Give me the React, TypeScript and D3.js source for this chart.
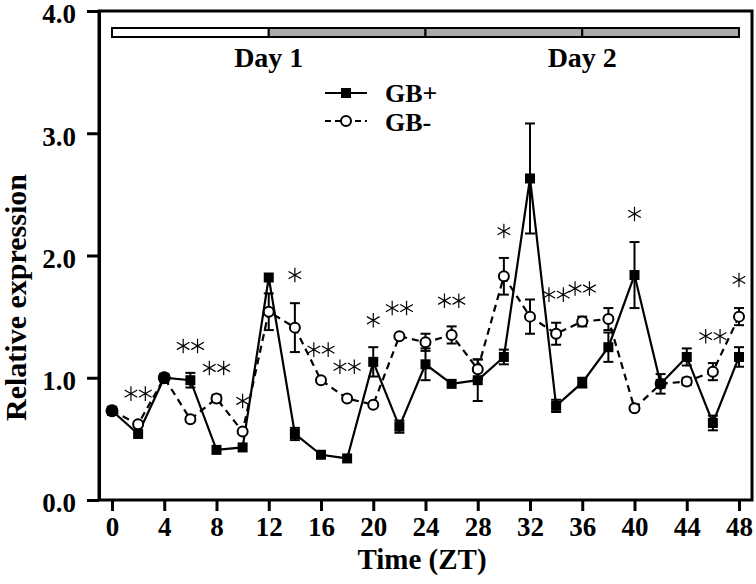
import React, { useEffect, useRef } from 'react';
import * as d3 from 'd3';

// sampling times (ZT hours)
const times = [0, 2, 4, 6, 8, 10, 12, 14, 16, 18, 20, 22, 24, 26, 28, 30, 32, 34, 36, 38, 40, 42, 44, 46, 48];

// GB+ (filled squares, solid line)
const gbPlus = [0.73, 0.54, 1.0, 0.98, 0.41, 0.43, 1.82, 0.54, 0.37, 0.34, 1.13, 0.6, 1.11, 0.95, 0.98, 1.17, 2.63, 0.77, 0.96, 1.25, 1.84, 0.95, 1.17, 0.63, 1.17];
const gbPlusErr = [0, 0, 0, 0.06, 0, 0, 0, 0.05, 0, 0, 0.12, 0.05, 0.13, 0, 0.17, 0.06, 0.45, 0.05, 0.04, 0.12, 0.27, 0.08, 0.07, 0.06, 0.08];

// GB- (open circles, dashed line)
const gbMinus = [0.73, 0.62, 1.0, 0.66, 0.83, 0.56, 1.54, 1.41, 0.98, 0.83, 0.78, 1.34, 1.29, 1.35, 1.07, 1.83, 1.5, 1.36, 1.46, 1.48, 0.75, 0.95, 0.97, 1.05, 1.5];
const gbMinusErr = [0, 0, 0, 0, 0.03, 0, 0.15, 0.2, 0, 0, 0, 0, 0.07, 0.07, 0.08, 0.15, 0.14, 0.09, 0.04, 0.09, 0, 0, 0.03, 0.07, 0.07];

// points where both series start together (drawn as filled dots)
const sharedTimes = [0, 4];

// significance marks
const starTimes = [2, 6, 8, 10, 14, 16, 18, 20, 22, 26, 30, 34, 36, 40, 46, 48];
const starCounts = [2, 2, 2, 1, 1, 2, 2, 1, 2, 2, 1, 2, 2, 1, 2, 1];
const starLevels = [0.87, 1.26, 1.08, 0.81, 1.84, 1.23, 1.09, 1.47, 1.57, 1.63, 2.2, 1.68, 1.73, 2.34, 1.34, 1.8];

// light/dark bar
const phaseStart = [0, 12, 24, 36];
const phaseEnd = [12, 24, 36, 48];
const phaseFill = ['#ffffff', '#aaaaaa', '#aaaaaa', '#aaaaaa'];

const dayLabels = ['Day 1', 'Day 2'];
const dayCenters = [12, 36];

const xTicks = [0, 4, 8, 12, 16, 20, 24, 28, 32, 36, 40, 44, 48];
const yTicks = [0, 1, 2, 3, 4];

const FONT = '"Liberation Serif", "Times New Roman", serif';

export default function App() {
  const ref = useRef<SVGSVGElement>(null);

  useEffect(() => {
    const left = 99, right = 752, top = 11, bottom = 500;

    const svg = d3.select(ref.current);
    svg.selectAll('*').remove();

    const x = d3.scaleLinear().domain([0, 48]).range([112, 739]);
    const y = d3.scaleLinear().domain([0, 4]).range([bottom, top]);

    // frame
    svg.append('rect')
      .attr('x', left).attr('y', top)
      .attr('width', right - left).attr('height', bottom - top)
      .attr('fill', 'none').attr('stroke', '#000').attr('stroke-width', 3);

    // y axis
    const yAxis = svg.append('g')
      .attr('transform', `translate(${left},0)`)
      .call(d3.axisLeft(y).tickValues(yTicks).tickFormat(d3.format('.1f')).tickSize(12).tickSizeOuter(0).tickPadding(11));
    yAxis.select('.domain').attr('stroke-width', 3);
    yAxis.selectAll('.tick line').attr('stroke-width', 3);
    yAxis.selectAll('.tick text')
      .attr('dy', '0.44em')
      .attr('font-family', FONT).attr('font-size', 27).attr('font-weight', 'bold').attr('fill', '#000');

    // x axis
    const xAxis = svg.append('g')
      .attr('transform', `translate(0,${bottom})`)
      .call(d3.axisBottom(x).tickValues(xTicks).tickFormat(d3.format('d')).tickSize(11).tickSizeOuter(0).tickPadding(6));
    xAxis.select('.domain').remove();
    xAxis.selectAll('.tick line').attr('stroke-width', 3);
    xAxis.selectAll('.tick text')
      .attr('font-family', FONT).attr('font-size', 27).attr('font-weight', 'bold').attr('fill', '#000');

    // axis titles
    svg.append('text')
      .attr('x', 422).attr('y', 569)
      .attr('text-anchor', 'middle')
      .attr('font-family', FONT).attr('font-size', 29).attr('font-weight', 'bold')
      .text('Time (ZT)');
    svg.append('text')
      .attr('transform', `translate(26,${(top + bottom) / 2 + 42}) rotate(-90)`)
      .attr('text-anchor', 'middle')
      .attr('font-family', FONT).attr('font-size', 30).attr('font-weight', 'bold')
      .text('Relative expression');

    // light / dark bar
    svg.append('g')
      .selectAll('rect')
      .data(phaseStart)
      .enter()
        .append('rect')
          .attr('x', (d) => x(d))
          .attr('y', 28)
          .attr('width', (d, i) => x(phaseEnd[i]) - x(d))
          .attr('height', 9)
          .attr('fill', (d, i) => phaseFill[i])
          .attr('stroke', '#000')
          .attr('stroke-width', 2);

    svg.append('g')
      .selectAll('text')
      .data(dayLabels)
      .enter()
        .append('text')
          .attr('x', (d, i) => x(dayCenters[i]))
          .attr('y', 67)
          .attr('text-anchor', 'middle')
          .attr('font-family', FONT).attr('font-size', 28).attr('font-weight', 'bold')
          .text((d) => d);

    // lines
    const line = d3.line<number>().x((d, i) => x(times[i])).y((d) => y(d));
    svg.append('path')
      .attr('d', line(gbMinus))
      .attr('fill', 'none').attr('stroke', '#000').attr('stroke-width', 2.2)
      .attr('stroke-dasharray', '7,5');
    svg.append('path')
      .attr('d', line(gbPlus))
      .attr('fill', 'none').attr('stroke', '#000').attr('stroke-width', 2.2);

    // error bars
    const drawErr = (vals: number[], errs: number[]) => {
      const g = svg.append('g').attr('stroke', '#000').attr('stroke-width', 2);
      times.forEach((t, i) => {
        if (!errs[i]) return;
        const cx = x(t);
        const y0 = y(vals[i] - errs[i]);
        const y1 = y(vals[i] + errs[i]);
        g.append('line').attr('x1', cx).attr('x2', cx).attr('y1', y0).attr('y2', y1);
        g.append('line').attr('x1', cx - 5).attr('x2', cx + 5).attr('y1', y0).attr('y2', y0);
        g.append('line').attr('x1', cx - 5).attr('x2', cx + 5).attr('y1', y1).attr('y2', y1);
      });
    };
    drawErr(gbMinus, gbMinusErr);
    drawErr(gbPlus, gbPlusErr);

    // GB- markers
    svg.append('g')
      .selectAll('circle')
      .data(gbMinus)
      .enter()
        .append('circle')
          .attr('cx', (d, i) => x(times[i]))
          .attr('cy', (d) => y(d))
          .attr('r', 5)
          .attr('fill', '#fff')
          .attr('stroke', '#000')
          .attr('stroke-width', 2);

    // GB+ markers
    svg.append('g')
      .selectAll('rect')
      .data(gbPlus)
      .enter()
        .append('rect')
          .attr('x', (d, i) => x(times[i]) - 5)
          .attr('y', (d) => y(d) - 5)
          .attr('width', 10)
          .attr('height', 10)
          .attr('fill', '#000');

    // shared start points
    svg.append('g')
      .selectAll('circle')
      .data(sharedTimes)
      .enter()
        .append('circle')
          .attr('cx', (d) => x(d))
          .attr('cy', (d) => y(gbPlus[times.indexOf(d)]))
          .attr('r', 6.5)
          .attr('fill', '#000');

    // stars
    const star = d3.symbol().type(d3.symbolAsterisk).size(150);
    const starG = svg.append('g');
    starTimes.forEach((t, i) => {
      const offs = starCounts[i] === 2 ? [-0.55, 0.55] : [0];
      offs.forEach((o) => {
        starG.append('path')
          .attr('d', star())
          .attr('transform', `translate(${x(t + o)},${y(starLevels[i])})`)
          .attr('fill', 'none')
          .attr('stroke', '#000')
          .attr('stroke-width', 1.2);
      });
    });

    // legend
    const leg = svg.append('g');
    leg.append('line').attr('x1', 325).attr('x2', 367).attr('y1', 93).attr('y2', 93)
      .attr('stroke', '#000').attr('stroke-width', 2.2);
    leg.append('rect').attr('x', 341).attr('y', 88).attr('width', 10).attr('height', 10).attr('fill', '#000');
    leg.append('text').attr('x', 385).attr('y', 102)
      .attr('font-family', FONT).attr('font-size', 26).attr('font-weight', 'bold').text('GB+');

    leg.append('line').attr('x1', 325).attr('x2', 367).attr('y1', 121).attr('y2', 121)
      .attr('stroke', '#000').attr('stroke-width', 2.2).attr('stroke-dasharray', '6,4');
    leg.append('circle').attr('cx', 346).attr('cy', 121).attr('r', 5)
      .attr('fill', '#fff').attr('stroke', '#000').attr('stroke-width', 2);
    leg.append('text').attr('x', 385).attr('y', 131)
      .attr('font-family', FONT).attr('font-size', 26).attr('font-weight', 'bold').text('GB-');
  }, []);

  return (
    <svg
      ref={ref}
      width={756}
      height={584}
      style={{ position: 'absolute', left: 0, top: 0, background: '#fff' }}
    />
  );
}
